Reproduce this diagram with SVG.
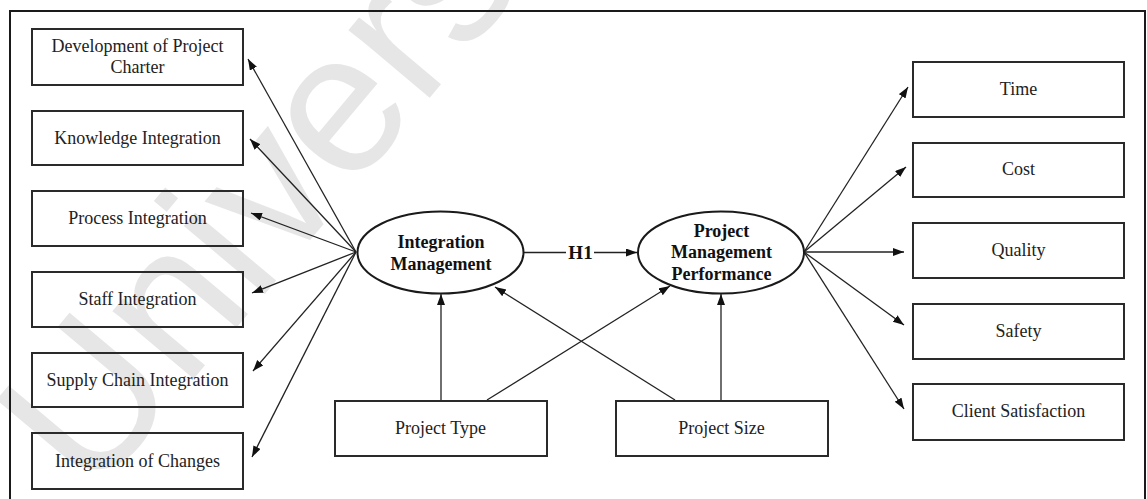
<svg xmlns="http://www.w3.org/2000/svg" width="1147" height="499" viewBox="0 0 1147 499">
  <style>
    .box { fill: none; stroke: #2a2a2a; stroke-width: 2; }
    .lat { fill: #ffffff; stroke: #1a1a1a; stroke-width: 2; }
    .lbl { font-family: "Liberation Serif", "Times New Roman", serif; font-size: 18px; fill: #222222; text-anchor: middle; }
    .lbl-b { font-family: "Liberation Serif", "Times New Roman", serif; font-size: 18px; font-weight: bold; fill: #111111; text-anchor: middle; }
    .edge { stroke: #222222; stroke-width: 1.3; fill: none; }
    .wm { font-family: "Liberation Sans", Arial, sans-serif; font-size: 200px; fill: #e6e6e6; }
  </style>
  <defs>
    <marker id="arrow" markerUnits="userSpaceOnUse" markerWidth="12" markerHeight="9" refX="11" refY="4" orient="auto">
      <path d="M0,0 L11,4 L0,8 z" fill="#111111"/>
    </marker>
  </defs>

  <rect width="1147" height="499" fill="#ffffff"/>

  <!-- background watermark, drawn under the boxes so it shows through them -->
  <text class="wm" x="92" y="500" transform="rotate(-50 92 500)">Univers</text>

  <!-- outer frame -->
  <path d="M10,502 L10,11 L1145,11 L1145,502" fill="none" stroke="#1a1a1a" stroke-width="2"/>

  <!-- connectors -->
  <g id="connectors">
    <!-- Integration Management to its indicators -->
    <line class="edge" x1="356" y1="252" x2="248" y2="59" marker-end="url(#arrow)"/>
    <line class="edge" x1="356" y1="252" x2="250" y2="139" marker-end="url(#arrow)"/>
    <line class="edge" x1="356" y1="252" x2="251" y2="213" marker-end="url(#arrow)"/>
    <line class="edge" x1="356" y1="252" x2="252" y2="293" marker-end="url(#arrow)"/>
    <line class="edge" x1="356" y1="252" x2="253" y2="371" marker-end="url(#arrow)"/>
    <line class="edge" x1="356" y1="252" x2="252" y2="457" marker-end="url(#arrow)"/>
    <!-- Project Management Performance to its indicators -->
    <line class="edge" x1="804" y1="252" x2="908" y2="87" marker-end="url(#arrow)"/>
    <line class="edge" x1="804" y1="252" x2="906" y2="167" marker-end="url(#arrow)"/>
    <line class="edge" x1="804" y1="252" x2="904" y2="252" marker-end="url(#arrow)"/>
    <line class="edge" x1="804" y1="252" x2="904" y2="325" marker-end="url(#arrow)"/>
    <line class="edge" x1="804" y1="252" x2="904" y2="409" marker-end="url(#arrow)"/>
    <!-- H1 path -->
    <line class="edge" x1="523" y1="252.5" x2="566" y2="252.5"/>
    <line class="edge" x1="594" y1="252.5" x2="637" y2="252.5" marker-end="url(#arrow)"/>
    <text class="lbl-b" x="580.5" y="259" style="font-size:19px">H1</text>
    <!-- control variables -->
    <line class="edge" x1="441" y1="401" x2="441" y2="294" marker-end="url(#arrow)"/>
    <line class="edge" x1="721" y1="401" x2="721" y2="294" marker-end="url(#arrow)"/>
    <line class="edge" x1="487" y1="400" x2="670" y2="286" marker-end="url(#arrow)"/>
    <line class="edge" x1="675" y1="400" x2="495" y2="287" marker-end="url(#arrow)"/>
  </g>

  <!-- left indicator boxes -->
  <g id="dev-charter">
    <rect class="box" x="32" y="29" width="211" height="56"/>
    <text class="lbl" x="137.5" y="52">Development of Project</text>
    <text class="lbl" x="137.5" y="73">Charter</text>
  </g>
  <g id="knowledge-integration">
    <rect class="box" x="32" y="111" width="211" height="54"/>
    <text class="lbl" x="137.5" y="143.5">Knowledge Integration</text>
  </g>
  <g id="process-integration">
    <rect class="box" x="32" y="191" width="211" height="55"/>
    <text class="lbl" x="137.5" y="224">Process Integration</text>
  </g>
  <g id="staff-integration">
    <rect class="box" x="32" y="272" width="211" height="55"/>
    <text class="lbl" x="137.5" y="305">Staff Integration</text>
  </g>
  <g id="supply-chain-integration">
    <rect class="box" x="32" y="353" width="211" height="54"/>
    <text class="lbl" x="137.5" y="386">Supply Chain Integration</text>
  </g>
  <g id="integration-of-changes">
    <rect class="box" x="32" y="433" width="211" height="56"/>
    <text class="lbl" x="137.5" y="467">Integration of Changes</text>
  </g>

  <!-- latent constructs -->
  <g id="integration-management">
    <ellipse class="lat" cx="440.5" cy="252.5" rx="83" ry="41"/>
    <text class="lbl-b" x="441" y="248">Integration</text>
    <text class="lbl-b" x="441" y="270">Management</text>
  </g>
  <g id="pm-performance">
    <ellipse class="lat" cx="721" cy="252.5" rx="83" ry="41"/>
    <text class="lbl-b" x="721.5" y="237">Project</text>
    <text class="lbl-b" x="721.5" y="258">Management</text>
    <text class="lbl-b" x="721.5" y="280">Performance</text>
  </g>

  <!-- control variable boxes -->
  <g id="project-type">
    <rect class="box" x="335" y="401" width="212" height="55"/>
    <text class="lbl" x="440.5" y="434">Project Type</text>
  </g>
  <g id="project-size">
    <rect class="box" x="616" y="401" width="212" height="55"/>
    <text class="lbl" x="721.5" y="434">Project Size</text>
  </g>

  <!-- right indicator boxes -->
  <g id="time">
    <rect class="box" x="913" y="62" width="211" height="55"/>
    <text class="lbl" x="1018.5" y="95">Time</text>
  </g>
  <g id="cost">
    <rect class="box" x="913" y="143" width="211" height="54"/>
    <text class="lbl" x="1018.5" y="175">Cost</text>
  </g>
  <g id="quality">
    <rect class="box" x="913" y="223" width="211" height="55"/>
    <text class="lbl" x="1018.5" y="256">Quality</text>
  </g>
  <g id="safety">
    <rect class="box" x="913" y="304" width="211" height="55"/>
    <text class="lbl" x="1018.5" y="337">Safety</text>
  </g>
  <g id="client-satisfaction">
    <rect class="box" x="913" y="384" width="211" height="56"/>
    <text class="lbl" x="1018.5" y="417">Client Satisfaction</text>
  </g>
</svg>
